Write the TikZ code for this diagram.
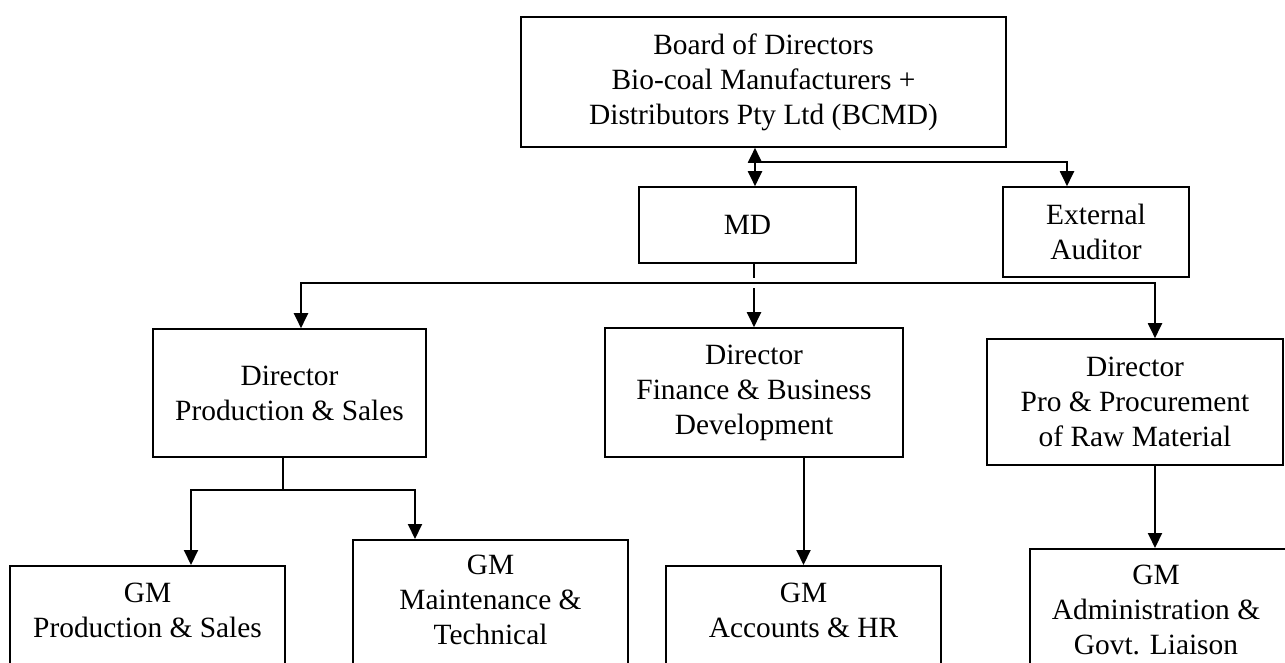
\documentclass[tikz,border=0pt]{standalone}
\usepackage{fontspec}
\setmainfont{Liberation Serif}
\usetikzlibrary{arrows.meta}

\begin{document}
\begin{tikzpicture}[
	x=1pt, y=-1pt,
	box/.style={draw=black, line width=1.6pt, rectangle, inner sep=0pt},
	txt/.style={align=center, font=\fontsize{29.4}{35}\selectfont},
	conn/.style={black, line width=2pt},
	tip/.style={-{Triangle[length=15pt,width=14pt]}}
	]
	\clip (0,0) rectangle (1285,662);

	\node[box,txt,minimum width=485pt,minimum height=130pt] (board) at (763.5,82) {Board of Directors\\Bio-coal Manufacturers +\\Distributors Pty Ltd (BCMD)};
	\node[box,txt,minimum width=217pt,minimum height=76pt] (md) at (747.5,225) {MD};
	\node[box,txt,minimum width=186pt,minimum height=90pt] (ext) at (1096,232) {External\\Auditor};

	\node[box,txt,minimum width=273pt,minimum height=128pt] (dprod) at (289.5,393) {Director\\Production \& Sales};
	\node[box,txt,minimum width=298pt,minimum height=129pt] (dfin) at (754,392.5) {Director\\Finance \& Business\\Development};
	\node[box,txt,minimum width=296pt,minimum height=126pt] (dpro) at (1135,402) {Director\\Pro \& Procurement\\of Raw Material};

	\node[box,minimum width=275pt,minimum height=200pt,anchor=north] (gmprod) at (147.5,565) {};
	\node[txt] (gmprodtxt) at (147.5,610) {GM\\Production \& Sales};
	\node[box,minimum width=275pt,minimum height=200pt,anchor=north] (gmmaint) at (490.5,539) {};
	\node[txt] (gmmainttxt) at (490.5,600) {GM\\Maintenance \&\\Technical};
	\node[box,minimum width=275pt,minimum height=200pt,anchor=north] (gmacc) at (803.5,565) {};
	\node[txt] (gmacctxt) at (803.5,610) {GM\\Accounts \& HR};
	\node[box,minimum width=265pt,minimum height=200pt,anchor=north] (gmadmin) at (1162.5,548) {};
	\node[txt] (gmadmintxt) at (1156,610) {GM\\Administration \&\\Govt. Liaison};

	\coordinate (j1) at (755,162);
	\coordinate (j2) at (754,283);
	\coordinate (j3) at (283,490);

	\draw[conn,{Triangle[length=15pt,width=14pt]}-{Triangle[length=15pt,width=14pt]}] (j1 |- board.south) -- (j1 |- md.north);
	\draw[conn,tip] (j1) -| ([xshift=-29pt]ext.north);

	\draw[conn] (md.south -| j2) -- ++(0,14);
	\draw[conn,tip] (j2) -| ([xshift=11.5pt]dprod.north);
	\draw[conn,tip] (j2) -| ([xshift=20pt]dpro.north);
	\draw[conn,tip] ([yshift=-5pt]j2) -- (dfin.north);

	\draw[conn] (dprod.south -| j3) -- (j3);
	\draw[conn,tip] (j3) -| ([xshift=43.5pt]gmprod.north);
	\draw[conn,tip] (j3) -| ([xshift=-75.5pt]gmmaint.north);
	\draw[conn,tip] (dfin.south -| gmacc.north) -- (gmacc.north);
	\draw[conn,tip] ([xshift=-7.5pt]gmadmin.north |- dpro.south) -- ([xshift=-7.5pt]gmadmin.north);

\end{tikzpicture}
\end{document}
